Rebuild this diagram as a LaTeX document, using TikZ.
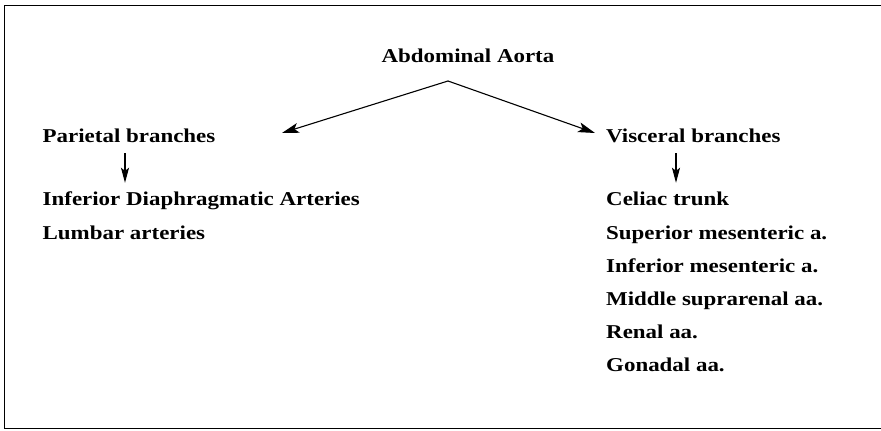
\documentclass[tikz,border=0pt]{standalone}
\usepackage{fontspec}
\setmainfont[FakeStretch=1.17]{Liberation Serif}
\usetikzlibrary{arrows.meta, positioning}

\begin{document}
\begin{tikzpicture}[
    x=1pt, y=1pt,
    node distance=15.8pt,
    lbl/.style={inner sep=0pt, text height=13pt, text depth=4pt, font=\fontsize{19.6}{24}\selectfont\bfseries},
    item/.style={lbl, anchor=north west},
    arrow/.style={-{Stealth[length=17pt, width=10pt, inset=4pt]}, line width=1.1pt},
    sarrow/.style={-{Stealth[length=15pt, width=8pt, inset=3pt]}, line width=1.1pt}
]
\useasboundingbox (0,0) rectangle (881,431);
% frame (open on the right)
\draw[line width=1.3pt] (881,425.5) -- (4.5,425.5) -- (4.5,2.5) -- (881,2.5);

\node[lbl, anchor=base] (aorta) at (468,368) {Abdominal Aorta};
\node[lbl, anchor=base west] (par) at (42.5,288) {Parietal branches};
\node[lbl, anchor=base west] (vis) at (606,288) {Visceral branches};

% parietal list
\node[lbl, anchor=base west] (ida) at (42.5,225) {Inferior Diaphragmatic Arteries};
\node[item, below=of ida.south west, anchor=north west] (lumb) {Lumbar arteries};

% visceral list
\node[lbl, anchor=base west] (cel) at (606,225) {Celiac trunk};
\node[item, below=of cel.south west, anchor=north west] (sma) {Superior mesenteric a.};
\node[item, below=of sma.south west, anchor=north west] (ima) {Inferior mesenteric a.};
\node[item, below=of ima.south west, anchor=north west] (msa) {Middle suprarenal aa.};
\node[item, below=of msa.south west, anchor=north west] (ren) {Renal aa.};
\node[item, below=of ren.south west, anchor=north west] (gon) {Gonadal aa.};

\coordinate (apex) at ([xshift=-20pt, yshift=-18pt]aorta.base);
\coordinate (ltip) at (282,298);
\coordinate (rtip) at (595,298);
\draw[arrow] (apex) -- (ltip);
\draw[arrow] (apex) -- (rtip);
\draw[sarrow] ([xshift=82.5pt, yshift=-6pt]par.south west) -- ([xshift=82.5pt, yshift=10pt]ida.north west);
\draw[sarrow] ([xshift=70pt, yshift=-6pt]vis.south west) -- ([xshift=70pt, yshift=10pt]cel.north west);
\end{tikzpicture}
\end{document}
